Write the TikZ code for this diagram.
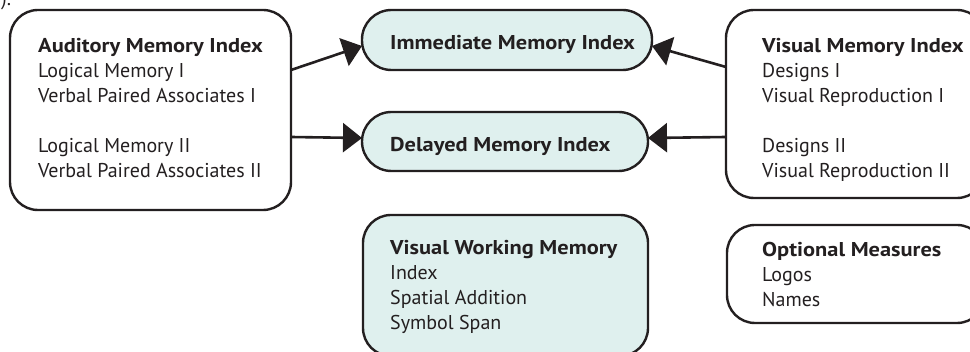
\documentclass[tikz,border=0pt]{standalone}
\usepackage{fontspec}
\setmainfont{PT Sans}[BoldFeatures={FakeStretch=1.12}]
\usetikzlibrary{arrows.meta}
\definecolor{ink}{HTML}{231F20}
\definecolor{pale}{HTML}{DFF0EE}
\newcommand{\linesof}[1]{\begin{tabular}[t]{@{}l@{}}#1\end{tabular}}
\tikzset{
  boxbase/.style={draw=ink, line width=2.4pt, inner sep=0pt, outer sep=0pt, anchor=north west},
  whitebox/.style={boxbase, fill=white, rounded corners=28pt},
  tintbox/.style={boxbase, fill=pale, rounded corners=28pt},
  pillbox/.style={boxbase, fill=pale, rounded corners=29.5pt},
  lbl/.style={anchor=base west, inner sep=0pt, text=ink, font=\fontsize{20}{25}\selectfont},
  conn/.style={draw=ink, line width=2.6pt, -{Triangle[length=19pt,width=29pt]}}
}
\begin{document}
\begin{tikzpicture}[x=1pt,y=-1pt]
\useasboundingbox (0,0) rectangle (970,352);
% boxes
\node[whitebox, minimum width=281pt, minimum height=200pt] (aud) at (10,10) {};
\node[pillbox, minimum width=290pt, minimum height=60pt] (imm) at (362,10) {};
\node[pillbox, minimum width=286pt, minimum height=59pt] (del) at (362,112) {};
\node[whitebox, minimum width=259pt, minimum height=188pt] (vis) at (726,10) {};
\node[tintbox, minimum width=285pt, minimum height=141pt] (vwm) at (363,215) {};
\node[whitebox, minimum width=258pt, minimum height=98pt] (opt) at (727,225) {};
% texts
\node[lbl] (frag) at (1,6) {).};
\node[lbl] (audt) at (38,53) {\linesof{\textbf{Auditory Memory Index}\\Logical Memory I\\Verbal Paired Associates I\\[25pt]Logical Memory II\\Verbal Paired Associates II}};
\node[lbl] (immt) at (390,50) {\textbf{Immediate Memory Index}};
\node[lbl] (delt) at (390,152) {\textbf{Delayed Memory Index}};
\node[lbl] (vist) at (762,53) {\linesof{\textbf{Visual Memory Index}\\Designs I\\Visual Reproduction I\\[25pt]Designs II\\Visual Reproduction II}};
\node[lbl] (vwmt) at (390,255) {\linesof{\textbf{Visual Working Memory}\\Index\\Spatial Addition\\Symbol Span}};
\node[lbl] (optt) at (762,257) {\linesof{\textbf{Optional Measures}\\Logos\\Names}};
% connectors
\draw[conn] ([yshift=40pt]aud.east) -- ([yshift=-6pt]imm.west);
\draw[conn] ([yshift=-27pt]aud.east) -- ([yshift=3.5pt]del.west);
\draw[conn] ([yshift=37pt]vis.west) -- ([yshift=-6pt]imm.east);
\draw[conn] ([yshift=-33pt]vis.west) -- ([yshift=3.5pt]del.east);
\end{tikzpicture}
\end{document}
